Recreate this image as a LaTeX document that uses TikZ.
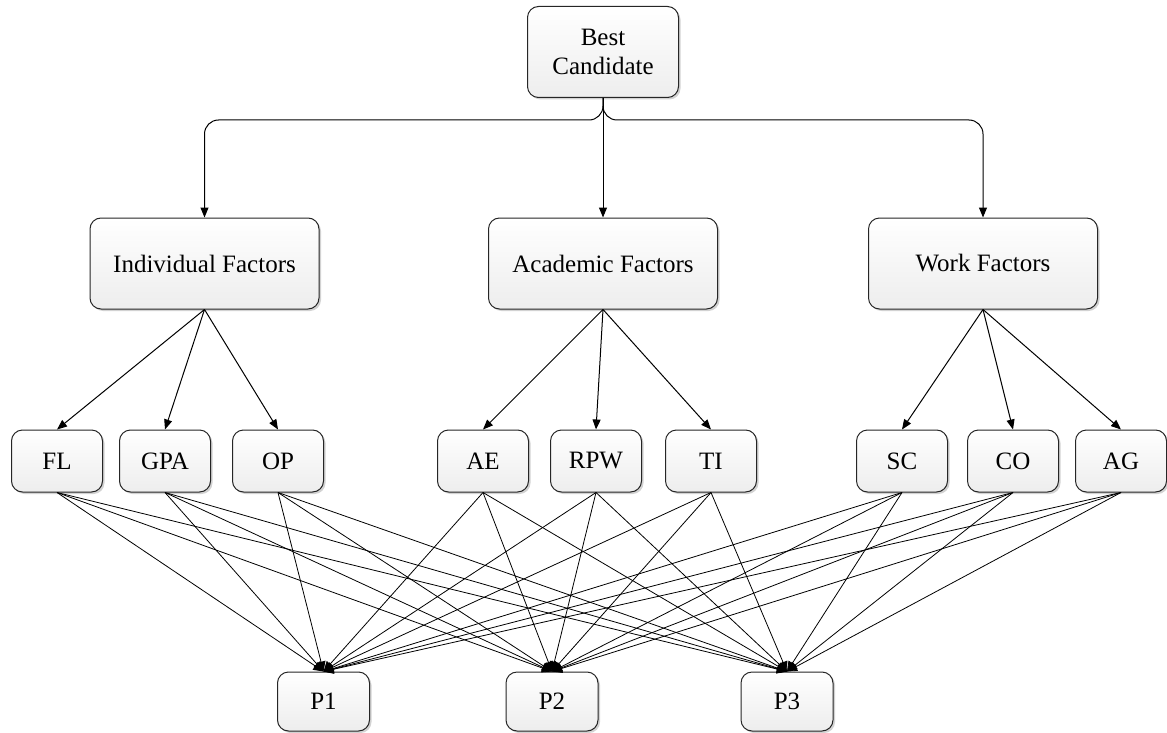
\documentclass[tikz,border=0pt]{standalone}
\usepackage{fontspec}
\setmainfont{Liberation Serif}
\usetikzlibrary{arrows.meta,shadows}
\begin{document}
\begin{tikzpicture}[x=1pt,y=-1pt,
  box/.style={draw=black!85, line width=1pt, rounded corners=11pt,
    top color=white, bottom color=black!7,
    drop shadow={shadow xshift=2pt, shadow yshift=-2pt, fill=black!35, opacity=0.5},
    font=\fontsize{25}{29}\selectfont, align=center, inner sep=0pt},
  big/.style={box, minimum width=229pt, minimum height=91pt},
  leaf/.style={box, minimum width=91pt, minimum height=62pt},
  pbox/.style={box, minimum width=92pt, minimum height=59pt},
  arr/.style={line width=1pt, -{Triangle[length=10pt,width=8pt]}},
  thin/.style={line width=0.8pt, -{Triangle[length=10pt,width=9pt]}}
]
\useasboundingbox (0,0) rectangle (1167,733);
\node[box, minimum width=151pt, minimum height=91pt] (bc) at (603,52) {Best\\Candidate};
\node[big] (ind) at (204.5,263.5) {Individual Factors};
\node[big] (aca) at (603,263.5) {Academic Factors};
\node[big] (wrk) at (983,263.5) {Work Factors};

\node[leaf] (FL) at (57,461) {FL};
\node[leaf] (GPA) at (165,461) {GPA};
\node[leaf] (OP) at (278,461) {OP};
\node[leaf] (AE) at (483,461) {AE};
\node[leaf] (RPW) at (596,461) {RPW};
\node[leaf] (TI) at (711,461) {TI};
\node[leaf] (SC) at (902,461) {SC};
\node[leaf] (CO) at (1013,461) {CO};
\node[leaf] (AG) at (1121,461) {AG};

\node[pbox] (P1) at (323.5,701.5) {P1};
\node[pbox] (P2) at (552,701.5) {P2};
\node[pbox] (P3) at (787,701.5) {P3};

\coordinate (j) at (603,120);
\draw[arr, rounded corners=14pt] (bc.south) -- (j) -| (ind.north);
\draw[arr, rounded corners=14pt] (bc.south) -- (j) -| (wrk.north);
\draw[arr] (bc.south) -- (aca.north);

\foreach \f/\ls in {ind/{FL,GPA,OP}, aca/{AE,RPW,TI}, wrk/{SC,CO,AG}} {
  \foreach \l in \ls { \draw[arr] (\f.south) -- (\l.north); }
}
\foreach \l in {FL,GPA,OP,AE,RPW,TI,SC,CO,AG} {
  \foreach \p in {P1,P2,P3} { \draw[thin] (\l.south) -- (\p.north); }
}
\end{tikzpicture}
\end{document}
